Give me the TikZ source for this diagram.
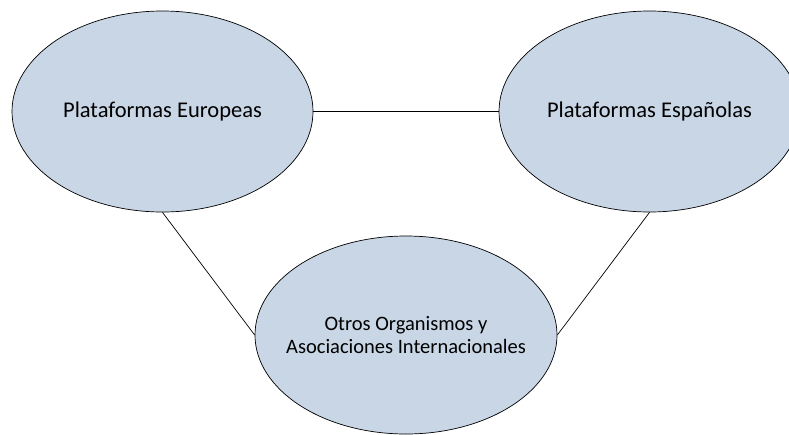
\documentclass[tikz,border=0pt]{standalone}
\usepackage{fontspec}
\setmainfont{Carlito}
\usetikzlibrary{shapes.geometric}
\definecolor{bubblefill}{RGB}{200,214,229}
\begin{document}
\begin{tikzpicture}[x=1pt,y=-1pt,
  bubble/.style={ellipse, draw=black, line width=0.7pt, fill=bubblefill,
    minimum width=301pt, minimum height=201pt, inner sep=0pt},
  toptext/.style={align=center, inner sep=0pt, font=\fontsize{22.5}{24}\selectfont},
  bottext/.style={align=center, inner sep=0pt, font=\fontsize{20.5}{22.7}\selectfont},
  link/.style={draw=black, line width=0.7pt}]
\useasboundingbox (0,0) rectangle (789,434);
\clip (0,0) rectangle (789,434);
\node[bubble, label={[toptext]center:Plataformas Europeas}] (eu) at (162.5,111.5) {};
\node[bubble, label={[toptext]center:Plataformas Españolas}] (es) at (649.5,111.5) {};
\node[bubble, minimum width=302pt, minimum height=198pt,
  label={[bottext]center:Otros Organismos y\\Asociaciones Internacionales}] (ot) at (406,335) {};
\draw[link] (eu.east) -- (es.west);
\draw[link] (eu.south) -- (ot.west);
\draw[link] (es.south) -- (ot.east);
\end{tikzpicture}
\end{document}
